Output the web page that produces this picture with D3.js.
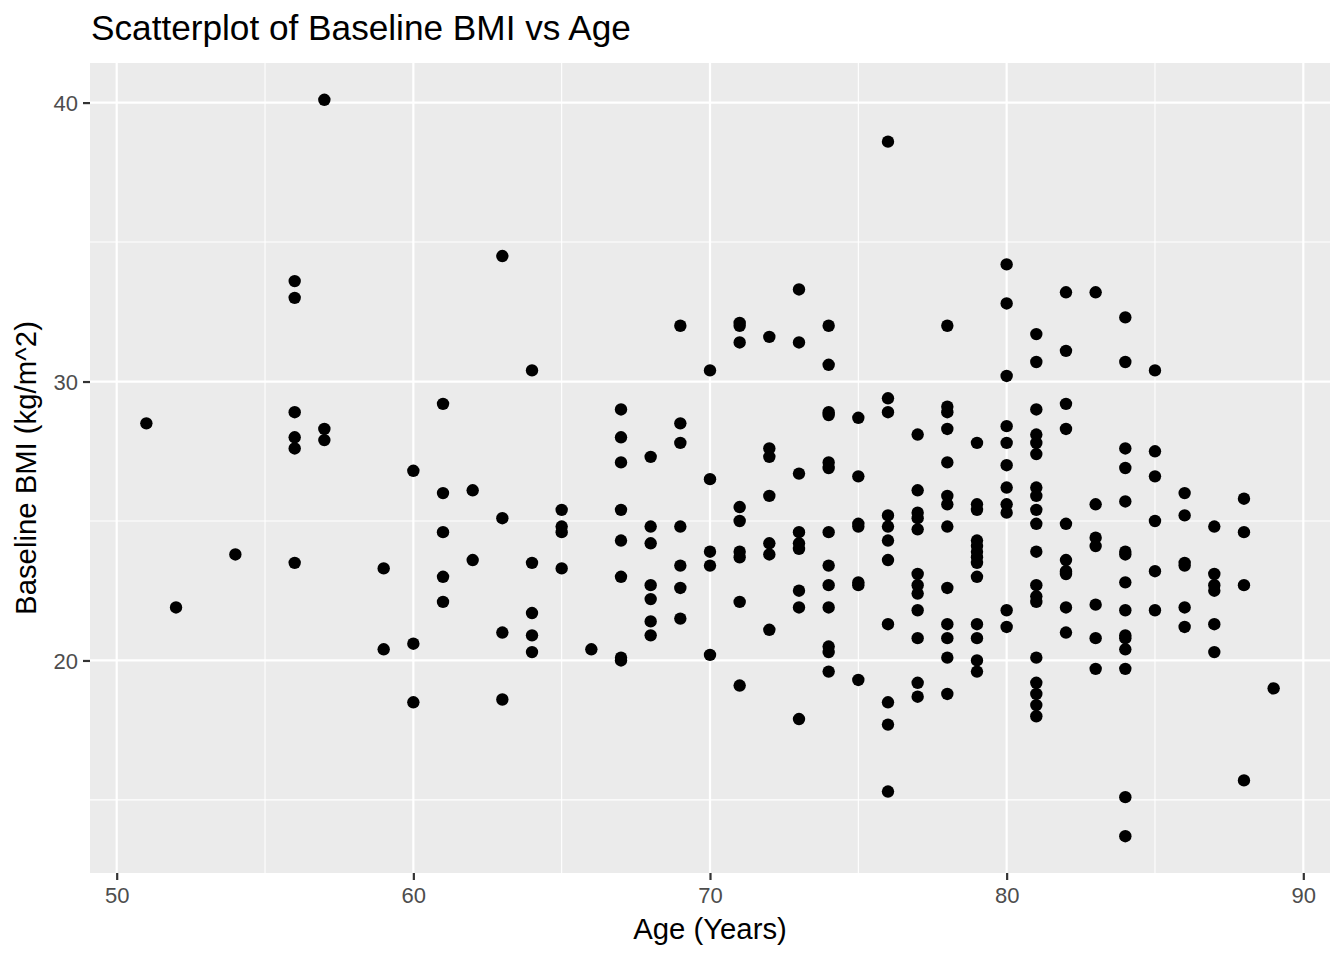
<!DOCTYPE html>
<html>
<head>
<meta charset="utf-8">
<script src="https://cdn.jsdelivr.net/npm/d3@7"></script>
<style>
  html, body { margin: 0; padding: 0; background: #ffffff; }
  svg { display: block; font-family: "Liberation Sans", Arial, sans-serif; }
</style>
</head>
<body>
<svg id="chart" width="1344" height="960"></svg>
<script>
// ---- Data ----
const chartTitle = "Scatterplot of Baseline BMI vs Age";
const xTitle = "Age (Years)";
const yTitle = "Baseline BMI (kg/m^2)";
const xTicks = [50, 60, 70, 80, 90];
const xMinor = [55, 65, 75, 85];
const yTicks = [20, 30, 40];
const yMinor = [15, 25, 35];

const ageGroups = [51, 52, 54, 56, 57, 59, 60, 61, 62, 63, 64, 65, 66, 67, 68, 69, 70,
  71, 72, 73, 74, 75, 76, 77, 78, 79, 80, 81, 82, 83, 84, 85, 86, 87, 88, 89];
const bmiByAge = [
  [28.5],
  [21.9],
  [23.8],
  [33.6, 33.0, 28.9, 28.0, 27.6, 23.5],
  [40.1, 28.3, 27.9],
  [23.3, 20.4],
  [26.8, 20.6, 18.5],
  [29.2, 26.0, 24.6, 23.0, 22.1],
  [26.1, 23.6],
  [34.5, 25.1, 21.0, 18.6],
  [30.4, 23.5, 21.7, 20.9, 20.3],
  [25.4, 24.8, 24.6, 23.3],
  [20.4],
  [29.0, 28.0, 27.1, 25.4, 24.3, 23.0, 20.1, 20.0],
  [27.3, 24.8, 24.2, 22.7, 22.2, 21.4, 20.9],
  [32.0, 28.5, 27.8, 24.8, 23.4, 22.6, 21.5],
  [30.4, 26.5, 23.9, 23.4, 20.2],
  [32.1, 32.0, 31.4, 25.5, 25.0, 23.9, 23.7, 22.1, 19.1],
  [31.6, 27.6, 27.3, 25.9, 24.2, 23.8, 21.1],
  [33.3, 31.4, 26.7, 24.6, 24.2, 24.0, 22.5, 21.9, 17.9],
  [32.0, 30.6, 28.9, 28.8, 27.1, 26.9, 24.6, 23.4, 22.7, 21.9, 20.5, 20.3, 19.6],
  [28.7, 26.6, 24.9, 24.8, 22.8, 22.7, 19.3],
  [38.6, 29.4, 28.9, 25.2, 24.8, 24.3, 23.6, 21.3, 18.5, 17.7, 15.3],
  [28.1, 26.1, 25.3, 25.1, 24.7, 23.1, 22.7, 22.4, 21.8, 20.8, 19.2, 18.7],
  [32.0, 29.1, 28.9, 28.3, 27.1, 25.9, 25.6, 24.8, 22.6, 21.3, 20.8, 20.1, 18.8],
  [27.8, 25.6, 25.4, 24.3, 24.1, 23.9, 23.7, 23.5, 23.0, 21.3, 20.8, 20.0, 19.6],
  [34.2, 32.8, 30.2, 28.4, 27.8, 27.0, 26.2, 25.6, 25.3, 21.8, 21.2],
  [31.7, 30.7, 29.0, 28.1, 27.8, 27.4, 26.2, 25.9, 25.4, 24.9, 23.9, 22.7, 22.3, 22.1, 20.1, 19.2, 18.8, 18.4, 18.0],
  [33.2, 31.1, 29.2, 28.3, 24.9, 23.6, 23.2, 23.1, 21.9, 21.0],
  [33.2, 25.6, 24.4, 24.1, 22.0, 20.8, 19.7],
  [32.3, 30.7, 27.6, 26.9, 25.7, 23.9, 23.8, 22.8, 21.8, 20.9, 20.8, 20.4, 19.7, 15.1, 13.7],
  [30.4, 27.5, 26.6, 25.0, 23.2, 21.8],
  [26.0, 25.2, 23.5, 23.4, 21.9, 21.2],
  [24.8, 23.1, 22.7, 22.5, 21.3, 20.3],
  [25.8, 24.6, 22.7, 15.7],
  [19.0]
];

// ---- Build point list ----
const points = [];
ageGroups.forEach((a, i) => bmiByAge[i].forEach(b => points.push({ age: a, bmi: b })));

// ---- Layout ----
const panel = { left: 90, right: 1330, top: 63, bottom: 873 };
const svg = d3.select("#chart");

function expand(ext, f) {
  const d = (ext[1] - ext[0]) * f;
  return [ext[0] - d, ext[1] + d];
}
const x = d3.scaleLinear()
  .domain(expand(d3.extent(points, d => d.age), 0.05))
  .range([panel.left, panel.right]);
const y = d3.scaleLinear()
  .domain(expand(d3.extent(points, d => d.bmi), 0.05))
  .range([panel.bottom, panel.top]);

// panel background
svg.append("rect")
  .attr("x", panel.left).attr("y", panel.top)
  .attr("width", panel.right - panel.left)
  .attr("height", panel.bottom - panel.top)
  .attr("fill", "#EBEBEB");

const grid = svg.append("g");
// minor grid
grid.selectAll(".xminor").data(xMinor).enter().append("line")
  .attr("x1", d => x(d)).attr("x2", d => x(d))
  .attr("y1", panel.top).attr("y2", panel.bottom)
  .attr("stroke", "#fff").attr("stroke-width", 1.1);
grid.selectAll(".yminor").data(yMinor).enter().append("line")
  .attr("y1", d => y(d)).attr("y2", d => y(d))
  .attr("x1", panel.left).attr("x2", panel.right)
  .attr("stroke", "#fff").attr("stroke-width", 1.1);
// major grid
grid.selectAll(".xmajor").data(xTicks).enter().append("line")
  .attr("x1", d => x(d)).attr("x2", d => x(d))
  .attr("y1", panel.top).attr("y2", panel.bottom)
  .attr("stroke", "#fff").attr("stroke-width", 2.2);
grid.selectAll(".ymajor").data(yTicks).enter().append("line")
  .attr("y1", d => y(d)).attr("y2", d => y(d))
  .attr("x1", panel.left).attr("x2", panel.right)
  .attr("stroke", "#fff").attr("stroke-width", 2.2);

// points
svg.append("g").selectAll("circle").data(points).enter().append("circle")
  .attr("cx", d => x(d.age))
  .attr("cy", d => y(d.bmi))
  .attr("r", 6.2)
  .attr("fill", "#000");

// axes
const xAxis = svg.append("g")
  .attr("transform", `translate(0,${panel.bottom})`)
  .call(d3.axisBottom(x).tickValues(xTicks).tickSize(7).tickPadding(5).tickFormat(d3.format("d")));
const yAxis = svg.append("g")
  .attr("transform", `translate(${panel.left},0)`)
  .call(d3.axisLeft(y).tickValues(yTicks).tickSize(7).tickPadding(5).tickFormat(d3.format("d")));
[xAxis, yAxis].forEach(g => {
  g.select(".domain").remove();
  g.selectAll(".tick line").attr("stroke", "#333333").attr("stroke-width", 2.2);
  g.selectAll(".tick text")
    .attr("fill", "#4D4D4D")
    .style("font-size", "22px")
    .style("font-family", "'Liberation Sans', Arial, sans-serif");
});
xAxis.selectAll(".tick text").attr("dy", "0.82em");
yAxis.selectAll(".tick text").attr("dy", "0.36em");

// titles
svg.append("text")
  .attr("x", 91).attr("y", 40)
  .attr("font-size", 35.2)
  .attr("fill", "#000")
  .text(chartTitle);

svg.append("text")
  .attr("x", (panel.left + panel.right) / 2)
  .attr("y", 939)
  .attr("text-anchor", "middle")
  .attr("font-size", 29.3)
  .attr("fill", "#000")
  .text(xTitle);

svg.append("text")
  .attr("transform", `translate(36,${(panel.top + panel.bottom) / 2}) rotate(-90)`)
  .attr("text-anchor", "middle")
  .attr("font-size", 29.3)
  .attr("fill", "#000")
  .text(yTitle);
</script>
</body>
</html>
